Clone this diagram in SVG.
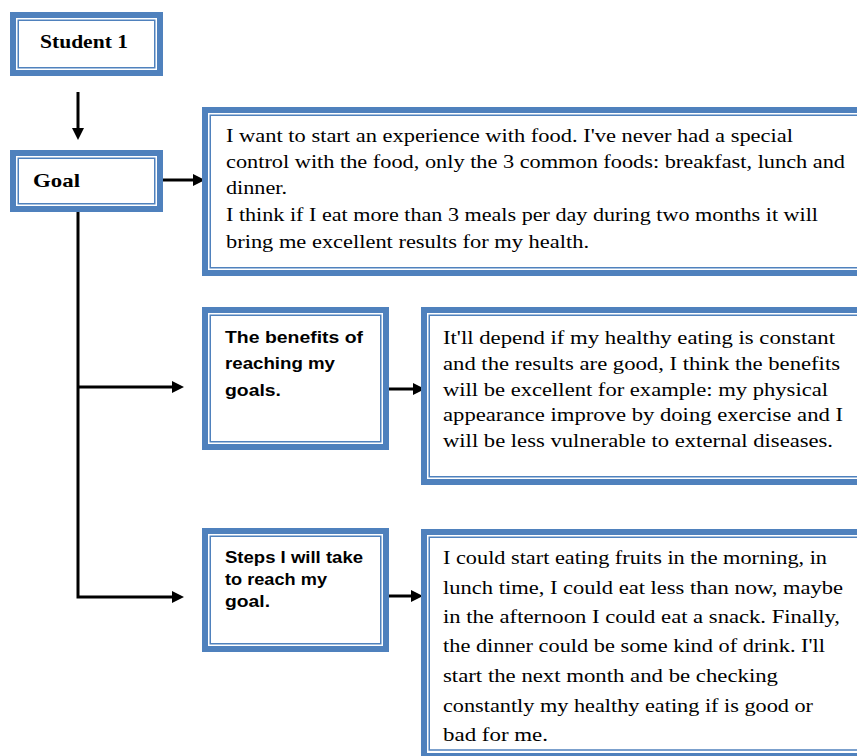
<svg xmlns="http://www.w3.org/2000/svg" width="857" height="756" viewBox="0 0 857 756">
<style>
.thick{fill:#fff;stroke:#4F81BD;stroke-width:6}
.thin{fill:none;stroke:#4F81BD;stroke-width:1.5}
.title{font-family:"Liberation Serif",serif;font-weight:bold;font-size:19px;fill:#000}
.body{font-family:"Liberation Serif",serif;font-size:18px;fill:#000}
.label{font-family:"Liberation Sans",Arial,sans-serif;font-weight:bold;font-size:17px;fill:#000}
.conn{fill:none;stroke:#000;stroke-width:3}
</style>
<defs>
<marker id="ah" markerWidth="12" markerHeight="12" refX="0" refY="6" orient="auto" markerUnits="userSpaceOnUse">
<path d="M0,0 L12,6 L0,12 Z" fill="#000"/>
</marker>
</defs>
<rect width="857" height="756" fill="#fff"/>
<g id="connectors">
<line class="conn" x1="78" y1="92" x2="78" y2="128" marker-end="url(#ah)"/>
<line class="conn" x1="163" y1="180" x2="193" y2="180" marker-end="url(#ah)"/>
<polyline class="conn" points="78,212 78,597 172,597" marker-end="url(#ah)"/>
<line class="conn" x1="78" y1="387" x2="172" y2="387" marker-end="url(#ah)"/>
<line class="conn" x1="389" y1="389" x2="413" y2="389" marker-end="url(#ah)"/>
<line class="conn" x1="389" y1="596" x2="411" y2="596" marker-end="url(#ah)"/>
</g>
<g id="student1">
<rect class="thick" x="13" y="15" width="147" height="58"/>
<rect class="thin" x="18.25" y="20.25" width="136.5" height="47.5"/>
<text class="title" x="40" y="48" textLength="88" lengthAdjust="spacingAndGlyphs">Student 1</text>
</g>
<g id="goal">
<rect class="thick" x="13" y="153" width="147" height="56"/>
<rect class="thin" x="18.25" y="158.25" width="136.5" height="45.5"/>
<text class="title" x="33" y="187" textLength="47" lengthAdjust="spacingAndGlyphs">Goal</text>
</g>
<g id="goal-text">
<rect class="thick" x="205" y="110" width="674" height="163"/>
<rect class="thin" x="210.25" y="115.25" width="663.5" height="152.5"/>
<text class="body" x="226" y="142" textLength="567" lengthAdjust="spacingAndGlyphs">I want to start an experience with food. I've never had a special</text>
<text class="body" x="226" y="168" textLength="619" lengthAdjust="spacingAndGlyphs">control with the food, only the 3 common foods: breakfast, lunch and</text>
<text class="body" x="226" y="194" textLength="61" lengthAdjust="spacingAndGlyphs">dinner.</text>
<text class="body" x="226" y="221" textLength="592" lengthAdjust="spacingAndGlyphs">I think if I eat more than 3 meals per day during two months it will</text>
<text class="body" x="226" y="248" textLength="363" lengthAdjust="spacingAndGlyphs">bring me excellent results for my health.</text>
</g>
<g id="benefits">
<rect class="thick" x="205" y="310" width="181" height="137"/>
<rect class="thin" x="210.25" y="315.25" width="170.5" height="126.5"/>
<text class="label" x="225" y="343" textLength="138" lengthAdjust="spacingAndGlyphs">The benefits of</text>
<text class="label" x="225" y="369" textLength="110" lengthAdjust="spacingAndGlyphs">reaching my</text>
<text class="label" x="225" y="396" textLength="56" lengthAdjust="spacingAndGlyphs">goals.</text>
</g>
<g id="benefits-text">
<rect class="thick" x="424" y="310" width="473" height="172"/>
<rect class="thin" x="429.25" y="315.25" width="462.5" height="161.5"/>
<text class="body" x="443" y="344" textLength="392" lengthAdjust="spacingAndGlyphs">It'll depend if my healthy eating is constant</text>
<text class="body" x="443" y="370" textLength="397" lengthAdjust="spacingAndGlyphs">and the results are good, I think the benefits</text>
<text class="body" x="443" y="396" textLength="385" lengthAdjust="spacingAndGlyphs">will be excellent for example: my physical</text>
<text class="body" x="443" y="421" textLength="400" lengthAdjust="spacingAndGlyphs">appearance improve by doing exercise and I</text>
<text class="body" x="443" y="447" textLength="390" lengthAdjust="spacingAndGlyphs">will be less vulnerable to external diseases.</text>
</g>
<g id="steps">
<rect class="thick" x="205" y="531" width="181" height="118"/>
<rect class="thin" x="210.25" y="536.25" width="170.5" height="107.5"/>
<text class="label" x="225" y="563" textLength="138" lengthAdjust="spacingAndGlyphs">Steps I will take</text>
<text class="label" x="225" y="585" textLength="102" lengthAdjust="spacingAndGlyphs">to reach my</text>
<text class="label" x="225" y="607" textLength="45" lengthAdjust="spacingAndGlyphs">goal.</text>
</g>
<g id="steps-text">
<rect class="thick" x="424" y="532" width="473" height="224"/>
<rect class="thin" x="429.25" y="537.25" width="462.5" height="212.75"/>
<text class="body" x="443" y="564" textLength="384" lengthAdjust="spacingAndGlyphs">I could start eating fruits in the morning, in</text>
<text class="body" x="443" y="594" textLength="400" lengthAdjust="spacingAndGlyphs">lunch time, I could eat less than now, maybe</text>
<text class="body" x="443" y="623" textLength="397" lengthAdjust="spacingAndGlyphs">in the afternoon I could eat a snack. Finally,</text>
<text class="body" x="443" y="652" textLength="382" lengthAdjust="spacingAndGlyphs">the dinner could be some kind of drink. I'll</text>
<text class="body" x="443" y="682" textLength="335" lengthAdjust="spacingAndGlyphs">start the next month and be checking</text>
<text class="body" x="443" y="712" textLength="370" lengthAdjust="spacingAndGlyphs">constantly my healthy eating if is good or</text>
<text class="body" x="443" y="741" textLength="105" lengthAdjust="spacingAndGlyphs">bad for me.</text>
</g>
</svg>
